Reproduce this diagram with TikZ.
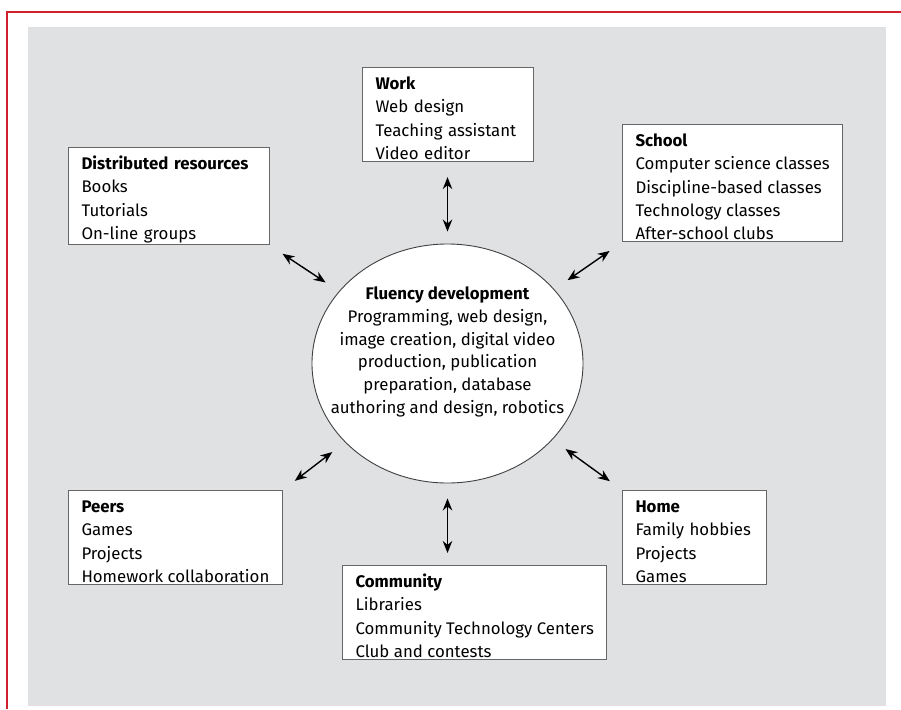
\documentclass[tikz,border=0pt]{standalone}
\usepackage{fontspec}
\setmainfont{Fira Sans}
\usetikzlibrary{arrows.meta,shapes.geometric}
\definecolor{panelgrey}{HTML}{E0E1E3}
\definecolor{framered}{HTML}{D0202E}
\newcommand{\boxhead}[1]{\rule{0pt}{20pt}\textbf{#1}}
\begin{document}
\begin{tikzpicture}[x=1pt,y=-1pt,
    box/.style={draw=black!60,fill=white,line width=1pt,align=left,anchor=north west,
      inner xsep=13pt,inner ysep=2pt,font=\fontsize{16.8}{23.3}\selectfont},
    link/.style={line width=1.4pt,{Stealth[length=12pt,width=9.5pt]}-{Stealth[length=12pt,width=9.5pt]}}]
  \useasboundingbox (0,0) rectangle (901,709);
  \fill[panelgrey] (28,27) rectangle (886,706);
  \draw[framered,line width=1.2pt] (7,709) -- (7,12) -- (901,12);
  % centre
  \node[draw=black!75,fill=white,line width=0.9pt,ellipse,minimum width=271pt,minimum height=239pt] (fluency) at (447.5,363.5) {};
  \node[align=center,font=\fontsize{16.8}{22.7}\selectfont] (fluencytext) at (447.5,352)
    {\textbf{Fluency development}\\Programming, web design,\\image creation, digital video\\production, publication\\preparation, database\\authoring and design, robotics};
  % settings
  \node[box,text width=145pt] (work) at (362,67) {\boxhead{Work}\\Web design\\Teaching assistant\\Video editor};
  \node[box,text width=175pt] (resources) at (68,147) {\boxhead{Distributed resources}\\Books\\Tutorials\\On-line groups};
  \node[box] (school) at (622,124) {\boxhead{School}\\Computer science classes\\Discipline-based classes\\Technology classes\\After-school clubs};
  \node[box] (peers) at (68,490) {\boxhead{Peers}\\Games\\Projects\\Homework collaboration};
  \node[box,text width=118pt] (home) at (622,490) {\boxhead{Home}\\Family hobbies\\Projects\\Games};
  \node[box] (community) at (342,565) {\boxhead{Community}\\Libraries\\Community Technology Centers\\Club and contests};
  % links
  \draw[link,shorten <=15pt,shorten >=12pt] (work.south -| fluency) -- (fluency);
  \draw[link,shorten <=15pt,shorten >=16pt] (resources.south east) -- (fluency);
  \draw[link,shorten <=15pt,shorten >=16pt] (school.south west) -- (fluency);
  \draw[link,shorten <=15pt,shorten >=16pt] (peers.north east) -- (fluency);
  \draw[link,shorten <=15pt,shorten >=16pt] (home.north west) -- (fluency);
  \draw[link,shorten <=12pt,shorten >=15pt] (community.north -| fluency) -- (fluency);
\end{tikzpicture}
\end{document}
